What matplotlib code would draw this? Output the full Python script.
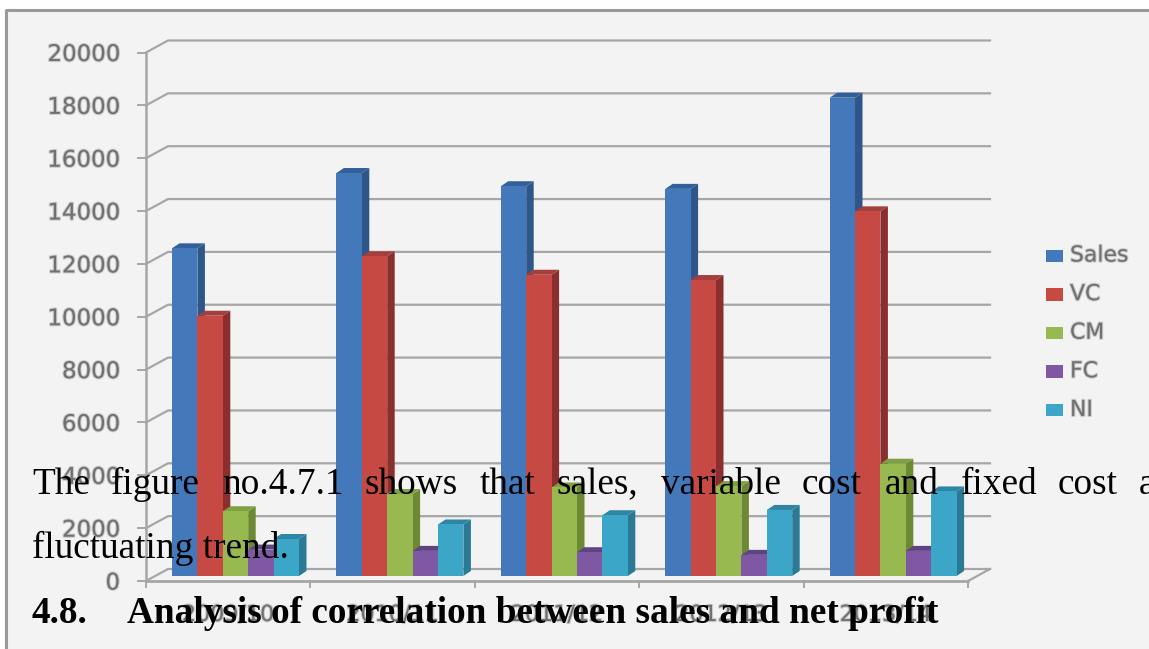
import matplotlib
matplotlib.use('Agg')
import matplotlib.pyplot as plt
import matplotlib.patheffects as pe
from matplotlib.patches import Polygon, Rectangle

W, H = 1149, 649

categories = ['2009/10', '2010/11', '2011/12', '2012/13', '2013/14']
series = ['Sales', 'VC', 'CM', 'FC', 'NI']
sales = [12400, 15250, 14750, 14650, 18100]
vc = [9850, 12100, 11400, 11200, 13800]
cm = [2450, 3100, 3350, 3400, 4250]
fc = [1000, 950, 900, 800, 950]
ni = [1400, 1950, 2300, 2500, 3200]
y_ticks = list(range(0, 20001, 2000))

front = ['#4379ba', '#c64a43', '#98b94f', '#7f58a4', '#3ba6c8']
side = ['#2f5688', '#8a2f2d', '#6d8a33', '#5a3f7d', '#2a7a96']
top = ['#34609a', '#a33f3c', '#80a044', '#5f4484', '#2f86a4']
grid_col = '#a6a6a6'
label_col = '#707070'
bg = '#f3f3f3'
soft = [pe.withStroke(linewidth=1.6, foreground=label_col, alpha=0.3)]

fig = plt.figure(figsize=(W / 100, H / 100), dpi=100, facecolor='white')

# pixel helper for the chart frame and the overlaid text
page = fig.add_axes([0, 0, 1, 1], zorder=3)
page.set_xlim(0, W)
page.set_ylim(H, 0)
page.axis('off')
page.patch.set_alpha(0)

under = fig.add_axes([0, 0, 1, 1], zorder=0)
under.set_xlim(0, W)
under.set_ylim(H, 0)
under.axis('off')
# grey panel with its frame on the top and left only
under.add_patch(Rectangle((6, 10), W, H, fc=bg, ec='none'))
under.plot([6, 6, W], [H, 10, 10], color='#9a9a9a', lw=2.2)

# plot area: one x unit is one category, y is the value
left, right, y0_px, y20k_px = 146, 968, 581, 52.5
ax = fig.add_axes([left / W, 1 - y0_px / H, (right - left) / W, (y0_px - y20k_px) / H], zorder=1)
ax.set_xlim(0, len(categories))
ax.set_ylim(0, 20000)
ax.axis('off')
ax.patch.set_alpha(0)

px_x = len(categories) / (right - left)
px_y = 20000 / (y0_px - y20k_px)

# back wall gridlines with the short slanted floor part
wall_dx, wall_dy = 22 * px_x, 12 * px_y
for v in y_ticks:
    ax.plot([0, wall_dx, len(categories) + wall_dx], [v, v + wall_dy, v + wall_dy],
            color=grid_col, lw=1.6, clip_on=False, zorder=1)
    ax.plot([-8 * px_x, 0], [v, v], color=grid_col, lw=1.4, clip_on=False, zorder=1)
    ax.text(-26 * px_x, v - 2 * px_y, str(v), ha='right', va='center', color=label_col,
            fontsize=16.5, path_effects=soft)

# front edge of the floor and axis
ax.plot([0, 0], [0, 20000], color=grid_col, lw=1.8, clip_on=False, zorder=1)
ax.plot([0, len(categories)], [0, 0], color=grid_col, lw=2, clip_on=False, zorder=1)
ax.plot([len(categories), len(categories) + wall_dx], [0, wall_dy], color=grid_col, lw=1.6,
        clip_on=False, zorder=1)
for i in range(len(categories) + 1):
    ax.plot([i, i], [0, -6 * px_y], color=grid_col, lw=1.4, clip_on=False, zorder=1)
for i, c in enumerate(categories):
    ax.text(i + 0.5, -34 * px_y, c, ha='center', va='center', color=label_col,
            fontsize=16, path_effects=soft, clip_on=False)

# 3D columns: front face, side face, top face
bar_w = 25.4 * px_x
start = 26 * px_x
base = 5 * px_y
dx, dy = 7.5 * px_x, 5 * px_y
for s, vals in enumerate([sales, vc, cm, fc, ni]):
    for i, v in enumerate(vals):
        x0 = i + start + s * bar_w
        x1 = x0 + bar_w
        h = base + v
        ax.add_patch(Polygon([(x1, base), (x1 + dx, base + dy), (x1 + dx, h + dy), (x1, h)],
                             fc=side[s], ec='none', zorder=2 + s))
        ax.add_patch(Polygon([(x0, h), (x0 + dx, h + dy), (x1 + dx, h + dy), (x1, h)],
                             fc=top[s], ec='none', zorder=2 + s))
        ax.add_patch(Rectangle((x0, base), bar_w, v, fc=front[s], ec='none', zorder=2 + s))

# legend
for s, name in enumerate(series):
    y = 255.5 + s * 38.6
    page.add_patch(Rectangle((1046, y - 6), 17, 12.5, fc=front[s], ec='none'))
    page.text(1070, y, name, ha='left', va='center', color=label_col, fontsize=15.8,
              path_effects=soft)

# body text set over the chart
serif = 'Liberation Serif'
words = [('The', 32), ('figure', 111), ('no.4.7.1', 222), ('shows', 364), ('that', 480),
         ('sales,', 557), ('variable', 661), ('cost', 802), ('and', 885), ('fixed', 961),
         ('cost', 1058), ('a', 1139)]
for word, x in words:
    page.text(x, 494.3, word, fontsize=26.8, family=serif, color='black', va='baseline')
page.text(32, 558, 'fluctuating trend.', fontsize=26.8, family=serif, color='black', va='baseline')
page.text(32, 623.3, '4.8.', fontsize=26.8, family=serif, weight='bold', color='black', va='baseline')
page.text(127, 623.3, 'Analysis of correlation between sales and net profit', fontsize=26.8,
          family=serif, weight='bold', color='black', va='baseline')

fig.savefig('out.png', dpi=100, facecolor='white')
